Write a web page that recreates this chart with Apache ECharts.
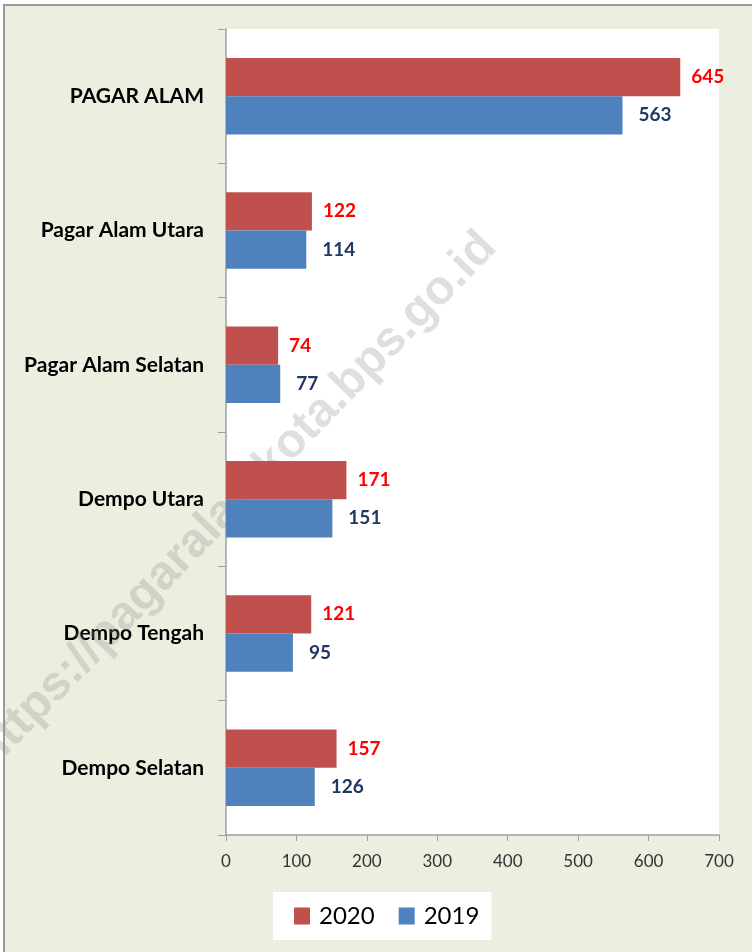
<!DOCTYPE html>
<html>
<head>
<meta charset="utf-8">
<script src="https://cdn.jsdelivr.net/npm/echarts@6/dist/echarts.min.js"></script>
<style>
html,body{margin:0;padding:0;background:#fff;}
#chart{width:752px;height:952px;}
</style>
</head>
<body>
<div id="chart"></div>
<script>
const categories = ['PAGAR ALAM', 'Pagar Alam Utara', 'Pagar Alam Selatan', 'Dempo Utara', 'Dempo Tengah', 'Dempo Selatan'];
const values2020 = [645, 122, 74, 171, 121, 157];
const values2019 = [563, 114, 77, 151, 95, 126];
const xTicks = [0, 100, 200, 300, 400, 500, 600, 700];

const chart = echarts.init(document.getElementById('chart'));
chart.setOption({
  backgroundColor: '#ffffff',
  animation: false,
  textStyle: { fontFamily: 'Lato' },
  graphic: [
    { type: 'rect', z: -10, shape: { x: 4, y: 5, width: 760, height: 960 },
      style: { fill: '#ebefdf', stroke: '#9a9a9a', lineWidth: 2 } },
    { type: 'text', z: 1, x: 236, y: 500, rotation: 0.8,
      style: { text: 'https://pagaralamkota.bps.go.id', font: 'bold 48px "Liberation Sans"',
        fill: 'rgba(140,140,140,0.28)', textAlign: 'center', textVerticalAlign: 'middle' } }
  ],
  grid: { left: 226, top: 29, right: 33, bottom: 117, show: true, backgroundColor: '#ffffff', borderWidth: 0 },
  legend: {
    data: ['2020', '2019'], left: 273, top: 892, backgroundColor: '#ffffff',
    padding: [12, 12, 12, 21], itemGap: 24, itemWidth: 16, itemHeight: 17, icon: 'rect',
    textStyle: { fontSize: 24, color: '#000', fontFamily: 'Lato', padding: [0, 0, 0, 4] }
  },
  xAxis: {
    type: 'value', min: 0, max: 700, interval: 100,
    axisLine: { show: true, lineStyle: { color: '#a0a0a0', width: 1.5 } },
    axisTick: { show: true, length: 6, lineStyle: { color: '#a0a0a0' } },
    splitLine: { show: false },
    axisLabel: { fontSize: 17, color: '#333', margin: 18, fontFamily: 'Lato',
      formatter: v => String(xTicks[xTicks.indexOf(v)]) }
  },
  yAxis: {
    type: 'category', data: categories, inverse: true,
    axisLine: { show: true, lineStyle: { color: '#a0a0a0', width: 1.5 } },
    axisTick: { show: true, length: 8, lineStyle: { color: '#a0a0a0' } },
    axisLabel: { fontSize: 21, fontWeight: 'bold', color: '#000', margin: 22, fontFamily: 'Lato' }
  },
  series: [
    { name: '2020', type: 'bar', data: values2020, barGap: '0%', barCategoryGap: '43%',
      itemStyle: { color: '#c0504d' }, z: 2,
      label: { show: true, position: 'right', distance: 11, color: '#ff0000', fontSize: 19, fontWeight: 'bold', fontFamily: 'Lato' } },
    { name: '2019', type: 'bar', data: values2019, barGap: '0%', barCategoryGap: '43%',
      itemStyle: { color: '#4f81bd' }, z: 2,
      label: { show: true, position: 'right', distance: 16, color: '#1f3864', fontSize: 19, fontWeight: 'bold', fontFamily: 'Lato' } }
  ]
});
</script>
</body>
</html>
